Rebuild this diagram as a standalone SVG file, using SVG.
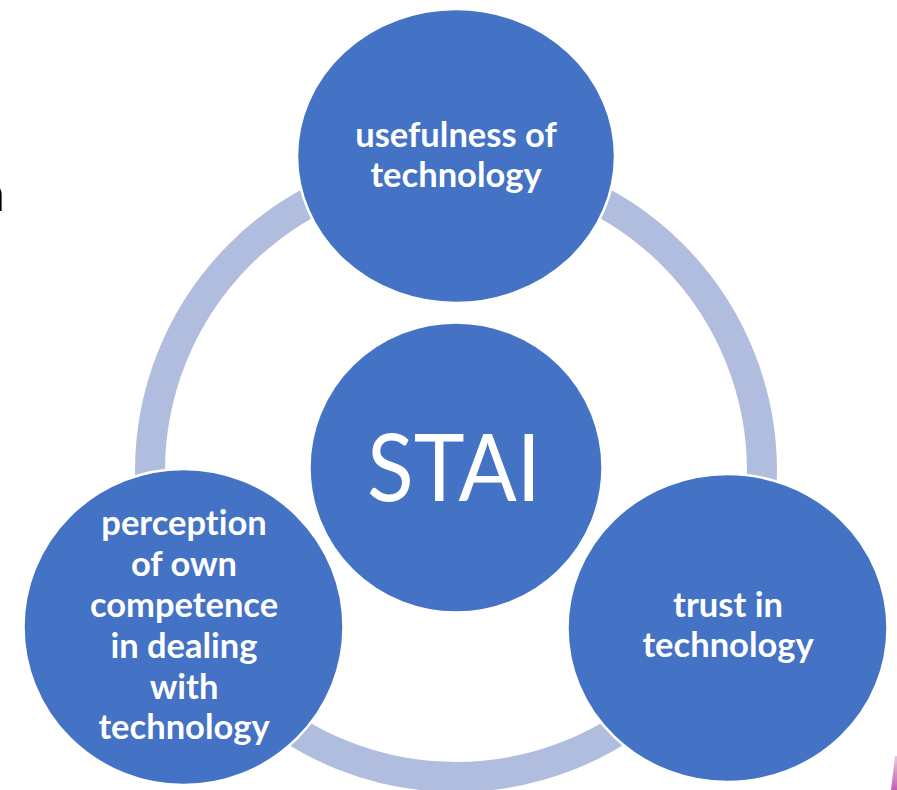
<svg xmlns="http://www.w3.org/2000/svg" width="897" height="790" viewBox="0 0 897 790">
  <style>
    .node { fill: #4472C4; stroke: #FFFFFF; stroke-width: 2.5; }
    .ring { fill: none; stroke: #B0BDDF; stroke-width: 30; }
    .lbl { font-family: Lato, "Open Sans", "Liberation Sans", sans-serif; font-weight: 700; font-size: 34.5px; fill: #FFFFFF; text-anchor: middle; font-variant-ligatures: none; }
    .core { font-family: Lato, "Open Sans", "Liberation Sans", sans-serif; font-weight: 400; font-size: 94px; fill: #FFFFFF; text-anchor: middle; }
  </style>
  <defs>
    <linearGradient id="sliver" x1="0" y1="0" x2="0" y2="1">
      <stop offset="0" stop-color="#E9C6E4"/>
      <stop offset="1" stop-color="#C160B2"/>
    </linearGradient>
  </defs>
  <rect width="897" height="790" fill="#FFFFFF"/>

  <!-- stray glyph at the left margin -->
  <text x="5" y="211" font-family="Lato, 'Liberation Sans', sans-serif" font-size="50" text-anchor="end" fill="#000000">n</text>

  <!-- cycle ring joining the three factors -->
  <g id="connectors">
    <circle class="ring" cx="456" cy="471" r="306"/>
  </g>

  <g id="node-core">
    <ellipse class="node" cx="456" cy="467.5" rx="146.5" ry="145"/>
    <text class="core" x="454" y="501" textLength="174" lengthAdjust="spacingAndGlyphs">STAI</text>
  </g>

  <g id="node-usefulness">
    <ellipse class="node" cx="456" cy="156" rx="159" ry="147"/>
    <text class="lbl" x="456" y="147">usefulness of</text>
    <text class="lbl" x="456" y="187">technology</text>
  </g>

  <g id="node-competence">
    <ellipse class="node" cx="183.5" cy="627" rx="160" ry="158"/>
    <text class="lbl" x="184" y="535">perception</text>
    <text class="lbl" x="184" y="576">of own</text>
    <text class="lbl" x="184" y="617">competence</text>
    <text class="lbl" x="184" y="658">in dealing</text>
    <text class="lbl" x="184" y="699">with</text>
    <text class="lbl" x="184" y="739">technology</text>
  </g>

  <g id="node-trust">
    <ellipse class="node" cx="727.5" cy="628" rx="160" ry="154"/>
    <text class="lbl" x="728" y="617">trust in</text>
    <text class="lbl" x="728" y="657">technology</text>
  </g>

  <!-- decorative sliver in the corner -->
  <polygon points="895,756 897,756 897,790 891,790" fill="url(#sliver)"/>
</svg>
